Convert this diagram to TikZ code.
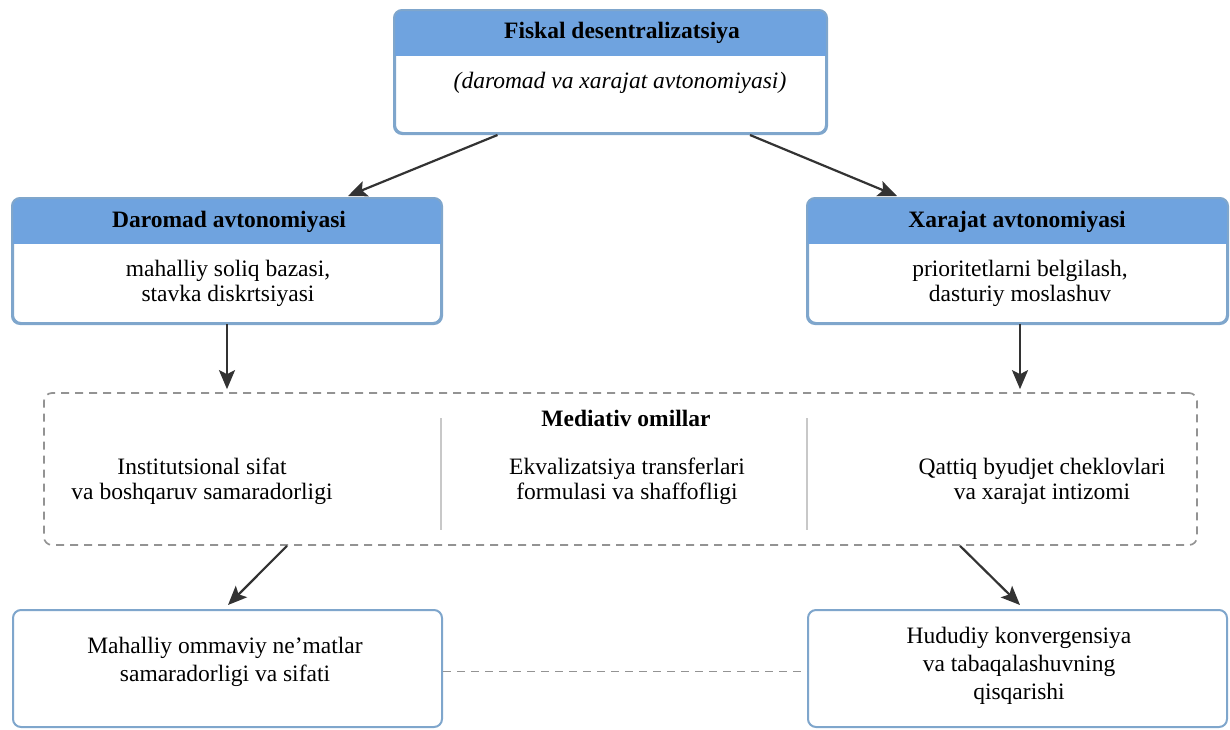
\documentclass[tikz,border=0pt]{standalone}
\usepackage{fontspec}
\setmainfont{Liberation Serif}
\usetikzlibrary{arrows.meta,calc}
\definecolor{hdr}{HTML}{6FA3DF}
\definecolor{bord}{HTML}{7FA6CC}
\definecolor{dgray}{HTML}{333333}
\definecolor{dashc}{HTML}{939393}
\definecolor{sepc}{HTML}{C8C8C8}
\begin{document}
\begin{tikzpicture}[x=1pt,y=-1pt,
  boxst/.style={draw=bord, line width=2pt, rounded corners=8pt, fill=white, inner sep=0pt},
  bordst/.style={draw=bord, line width=2pt, rounded corners=8pt},
  arr/.style={draw=dgray, line width=2.2pt, -{Stealth[length=19pt,width=16pt,inset=4pt]}},
  txt/.style={align=center, inner sep=0pt, font=\fontsize{23.5}{25}\selectfont},
  btxt/.style={align=center, inner sep=0pt, font=\fontsize{23.5}{28}\selectfont},
  hd/.style={inner sep=0pt, font=\fontsize{23.5}{25}\selectfont\bfseries}]
\useasboundingbox (0,0) rectangle (1230,729);

% boxes
\node[boxst, minimum width=431pt, minimum height=122pt] (top) at (610.5,72) {};
\node[boxst, minimum width=428pt, minimum height=124pt] (left) at (227,261) {};
\node[boxst, minimum width=419pt, minimum height=124pt] (right) at (1017.5,261) {};
\node[boxst, minimum width=429pt, minimum height=117pt] (bl) at (227.5,668.5) {};
\node[boxst, minimum width=419pt, minimum height=117pt] (br) at (1017.5,668.5) {};
\node[draw=dashc, dash pattern=on 8pt off 6pt, line width=1.7pt, rounded corners=8pt,
      minimum width=1153pt, minimum height=152pt, inner sep=0pt] (med) at (620.5,469) {};

% headers
\foreach \b in {top,left,right}{
  \begin{scope}
    \clip[rounded corners=8pt] (\b.north west) rectangle (\b.south east);
    \fill[hdr] (\b.north west) rectangle ($(\b.north east)+(0,46)$);
  \end{scope}
  \draw[bordst] (\b.north west) rectangle (\b.south east);
}

% texts
\node[hd] (toph) at (622,33) {Fiskal desentralizatsiya};
\node[txt, font=\fontsize{23.5}{25}\selectfont\itshape] (topt) at (620,83) {(daromad va xarajat avtonomiyasi)};
\node[hd] (lefth) at (229,222) {Daromad avtonomiyasi};
\node[txt] (leftt) at (228,283) {mahalliy soliq bazasi,\\stavka diskrtsiyasi};
\node[hd] (righth) at (1017,222) {Xarajat avtonomiyasi};
\node[txt] (rightt) at (1020,283) {prioritetlarni belgilash,\\dasturiy moslashuv};
\node[hd] (medh) at (626,418) {Mediativ omillar};
\node[txt] (m1) at (202,481) {Institutsional sifat\\va boshqaruv samaradorligi};
\node[txt] (m2) at (627,481) {Ekvalizatsiya transferlari\\formulasi va shaffofligi};
\node[txt] (m3) at (1042,481) {Qattiq byudjet cheklovlari\\va xarajat intizomi};
\node[btxt] (blt) at (225,662) {Mahalliy ommaviy ne’matlar\\samaradorligi va sifati};
\node[btxt] (brt) at (1019,666) {Hududiy konvergensiya\\va tabaqalashuvning\\qisqarishi};

% separators
\draw[sepc, line width=1.2pt] (441,418) -- (441,530);
\draw[sepc, line width=1.2pt] (807,418) -- (807,530);

% connectors
\draw[arr] ($(top.south)+(-113,1)$) -- ($(left.north)+(121,-2)$);
\draw[arr] ($(top.south)+(139.5,1)$) -- ($(right.north)+(-120.5,-2)$);
\draw[arr] (left.south) -- ($(left.south |- med.north)+(0,-3)$);
\draw[arr] ($(right.south)+(2.5,0)$) -- ($(right.south |- med.north)+(2.5,-3)$);
\draw[arr] ($(med.south)+(-333.5,0)$) -- ($(bl.north)+(0.5,-4)$);
\draw[arr] ($(med.south)+(339.5,0)$) -- ($(br.north)+(2.5,-4)$);
\draw[dashc, dash pattern=on 8pt off 6pt, line width=1.7pt] ($(bl.east)+(0,3)$) -- ($(br.west)+(0,3)$);
\end{tikzpicture}
\end{document}
